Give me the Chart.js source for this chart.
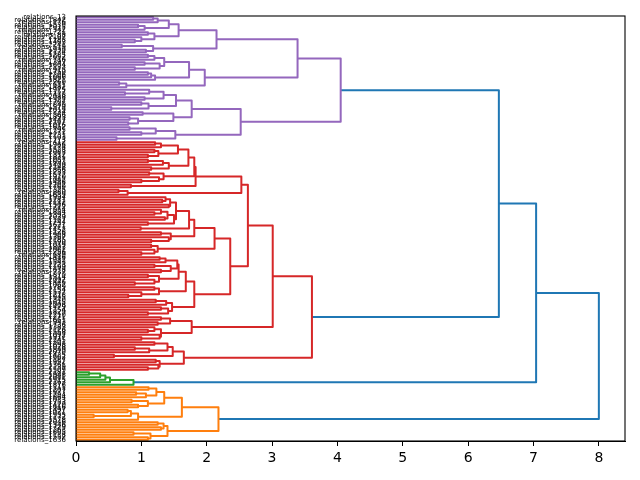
<!DOCTYPE html>
<html><head><meta charset="utf-8">
<script src="https://cdn.jsdelivr.net/npm/chart.js@4.4.1/dist/chart.umd.min.js"></script>
<style>html,body{margin:0;padding:0;background:#fff}</style>
</head><body>
<canvas id="c" width="640" height="480" style="width:640px;height:480px"></canvas>
<script>
// ---- leaf labels (top to bottom) ----
const purpleIds = [13,1842,176,1539,2015,342,1721,88,2107,1188,1463,2241,519,1930,2174,1285,2052,716,1397,1604,2133,915,1750,2206,1066,1821,2260,611,1482,1975,1157,418,2088,1322,1707,849,1579,2019,1234,366,1893,1447,2167,1016,1652,795,1371,2231,1103,1773];
const redIds = [412,1966,1174,1528,2083,1312,1831,1057,1693,1409,2148,1866,1233,1572,1920,1042,1488,2202,1769,1325,880,1639,1994,1281,2112,1506,1712,954,1854,1393,2039,1167,1744,1621,2271,1452,1128,1908,1367,2185,1590,1019,1803,2061,1256,689,1416,1982,1543,2223,1199,1678,737,1870,1314,2097,1446,1062,1789,2154,1537,1218,1945,1340,1615,2008,1479,1154,1829,2210,1271,1661,943,1736,1383,2126,1558,1092,1917,2245,1301,1698,1028,1849,2070,1425,1602,1187,1952,1361,2139,1509];
const greenIds = [2181,1948,2081,1915,2163,1876];
const orangeIds = [1111,1207,1977,1294,1864,1033,1753,1420,1616,1497,1021,1935,1172,1578,2046,1346,1729,1263,1805,1138,1552,1636];

// ---- merge trees: [distance, left, right], 0 = leaf ----
const purpleTree = [4.05,
  [3.39,
    [2.15,
      [1.57, [1.42, [1.25, [1.18, 0, 0], 0], [1.05, [0.95, 0, 0], 0]],
             [1.20, [1.10, 0, 0], [1.00, 0, [0.90, 0, 0]]]],
      [1.18, [0.70, 0, 0], [1.07, 0, 0]]],
    [1.97,
      [1.73, [1.35, [1.20, [1.10, 0, 0], 0], [1.28, [1.05, 0, 0], [0.90, 0, 0]]],
             [1.21, [1.15, [1.10, 0, 0], 0], 0]],
      [0.77, [0.66, 0, 0], 0]]],
  [2.52,
    [1.77,
      [1.53, [1.34, [1.12, 0, [0.75, 0, 0]], [1.05, 0, 0]], [1.11, [1.00, 0, 0], [0.54, 0, 0]]],
      [1.49, [1.02, 0, 0], [0.95, [0.82, 0, 0], [0.80, 0, 0]]]],
    [1.52, [1.22, [0.82, 0, 0], [1.00, 0, 0]], [0.62, 0, 0]]]];

const redTree = [3.61,
  [3.01,
    [2.63,
      [2.53,
        [1.83,
          [1.81,
            [1.72,
              [1.56, [1.30, [1.21, 0, 0], 0], [1.26, [1.20, 0, 0], [1.10, 0, 0]]],
              [1.42, [1.33, [1.10, 0, 0], 0], [1.15, 0, 0]]],
            [1.34, [1.12, 0, 0], [1.27, 0, [1.00, 0, 0]]]],
          [0.84, 0, 0]],
        [0.79, [0.65, 0, 0], 0]],
      [2.36,
        [2.12,
          [1.81,
            [1.73,
              [1.53, [1.44, [1.37, 0, [1.32, 0, 0]], [1.42, 0, 0]],
                     [1.50, [1.40, [1.30, 0, [1.20, 0, 0]], [1.36, 0, 0]], [1.10, 0, 0]]],
              [0.99, 0, 0]],
            [1.45, [1.30, 0, 0], [1.42, 0, [1.15, 0, 0]]]],
          [1.25, [1.15, 0, 0], [1.20, 0, [1.00, 0, 0]]]],
        [1.81,
          [1.68,
            [1.57,
              [1.55, [1.37, [1.28, 0, 0], 0], [1.45, [1.20, 0, 0], [1.30, 0, 0]]],
              [1.27, [1.10, 0, 0], [1.20, 0, [0.90, 0, 0]]]],
            [1.27, [1.20, 0, 0], [1.00, 0, [0.80, 0, 0]]]],
          [1.47, [1.38, [1.22, 0, 0], 0], [1.41, [1.30, 0, 0], [1.10, 0, 0]]]]]],
    [1.77, [1.44, [1.30, 0, 0], [1.25, 0, 0]],
           [1.30, [1.20, 0, [1.10, 0, 0]], [1.28, 0, [1.00, 0, 0]]]]],
  [1.65,
    [1.48, [1.40, [1.20, 0, 0], [1.12, [0.90, 0, 0], 0]], [0.58, 0, 0]],
    [1.28, [1.22, 0, 0], [1.26, 0, [1.10, 0, 0]]]]];

const greenTree = [0.88, [0.52, [0.45, [0.37, [0.20, 0, 0], 0], 0], 0], 0];

const orangeTree = [2.18,
  [1.62,
    [1.35, [1.23, [1.11, 0, 0], [1.07, [0.92, 0, 0], 0]], [1.10, [0.85, 0, 0], [0.95, 0, 0]]],
    [0.95, [0.84, [0.79, 0, 0], [0.27, 0, 0]], 0]],
  [1.40, [1.34, [1.25, 0, 0], [1.30, 0, 0]], [1.14, [0.88, 0, 0], [1.10, 0, 0]]]];

const topTree = [8.0, [7.04, [6.47, 'purple', 'red'], 'green'], 'orange'];
const xTicks = [0, 1, 2, 3, 4, 5, 6, 7, 8];
const xMax = 8.4;

const clusterColors = {purple: '#9467bd', red: '#d62728', green: '#2ca02c', orange: '#ff7f0e'};
const aboveColor = '#1f77b4';
const trees = {purple: purpleTree, red: redTree, green: greenTree, orange: orangeTree};

const leafLabels = [...purpleIds, ...redIds, ...greenIds, ...orangeIds].map(id => 'relations_' + id);
const N = leafLabels.length;
const leafPos = leafLabels.map((_, i) => 10 * i + 5);

let leafCounter = 0;
const links = [];
function walk(node, color) {
  if (typeof node === 'string') return walk(trees[node], clusterColors[node]);
  if (!Array.isArray(node)) return {x: 0, y: leafPos[leafCounter++]};
  const a = walk(node[1], color), b = walk(node[2], color);
  links.push({color, pts: [{x: a.x, y: a.y}, {x: node[0], y: a.y}, {x: node[0], y: b.y}, {x: b.x, y: b.y}]});
  return {x: node[0], y: (a.y + b.y) / 2};
}
walk(topTree, aboveColor);

const framePlugin = {
  id: 'frame',
  afterDatasetsDraw(chart) {
    const {ctx, chartArea: a} = chart;
    ctx.save();
    ctx.strokeStyle = '#000';
    ctx.lineWidth = 1.1;
    ctx.strokeRect(a.left, a.top, a.right - a.left, a.bottom - a.top);
    ctx.restore();
  }
};

new Chart(document.getElementById('c'), {
  type: 'scatter',
  data: {
    datasets: links.map(l => ({
      data: l.pts, borderColor: l.color, backgroundColor: l.color, borderWidth: 2,
      showLine: true, pointRadius: 0, pointHoverRadius: 0, fill: false, tension: 0,
      borderJoinStyle: 'round'
    }))
  },
  options: {
    responsive: false,
    animation: false,
    events: [],
    layout: {padding: {top: 16, right: 15, left: 0, bottom: 0}},
    plugins: {legend: {display: false}, tooltip: {enabled: false}},
    scales: {
      x: {
        type: 'linear', min: 0, max: xMax,
        afterBuildTicks: s => { s.ticks = xTicks.map(v => ({value: v})); },
        afterFit: s => { s.height = 39; },
        ticks: {font: {family: 'DejaVu Sans', size: 14}, color: '#000', padding: 4, maxRotation: 0, autoSkip: false,
                callback: v => String(v)},
        grid: {display: true, drawOnChartArea: false, drawTicks: true, tickLength: 5, color: '#000', lineWidth: 1},
        border: {display: true, color: '#000', width: 1}
      },
      y: {
        type: 'linear', reverse: true, min: 0, max: 10 * N,
        afterBuildTicks: s => { s.ticks = leafPos.map(v => ({value: v})); },
        afterFit: s => { s.width = 76; },
        ticks: {autoSkip: false, font: {family: 'DejaVu Sans', size: 7}, color: '#000', padding: 10,
                callback: (v, i) => leafLabels[i]},
        grid: {display: false, drawTicks: false},
        border: {display: true, color: '#000', width: 1}
      }
    }
  },
  plugins: [framePlugin]
});
</script>
</body></html>
